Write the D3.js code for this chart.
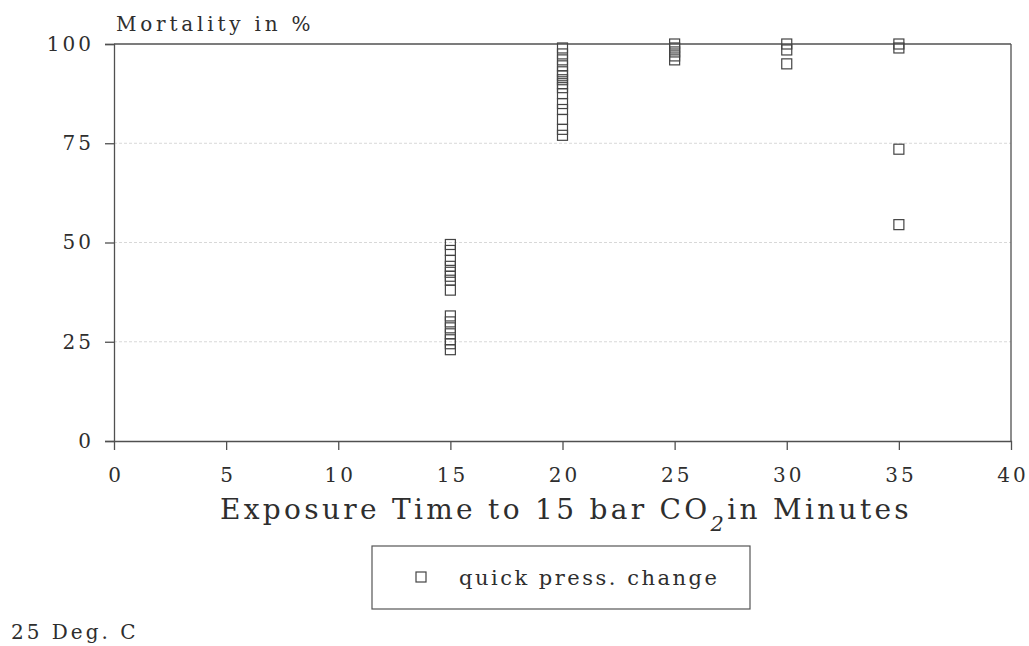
<!DOCTYPE html>
<html><head><meta charset="utf-8">
<script src="https://cdn.jsdelivr.net/npm/d3@7"></script>
<style>body{margin:0;background:#fff}svg{display:block}text{font-family:"DejaVu Serif",serif;fill:#2e2e2e}</style>
</head><body>
<script>
const xTicks = [0,5,10,15,20,25,30,35,40];
const yTicks = [0,25,50,75,100];
const times = [15,20,25,30,35];
const mort15 = [49.5,48,45.5,44,42.5,41.5,40.5,38,31.5,30,28.5,27,25.5,24.5,23];
const mort20 = [99,97.5,96,94.5,93,92,91,90,89,87.5,85,83.5,81,78.5,77];
const mort25 = [100,99,98,97,96];
const mort30 = [100,98.5,95];
const mort35 = [100,99,73.5,54.5];
const seriesName = "quick press. change";

const W=1029,H=646;
const svg=d3.select("body").append("svg").attr("width",W).attr("height",H);
const x=d3.scaleLinear().domain([0,40]).range([114,1011]);
const y=d3.scaleLinear().domain([0,100]).range([441,44]);
const ink="#505050";

// grid
svg.append("g").selectAll("line").data([25,50,75]).join("line")
 .attr("x1",x(0)).attr("x2",x(40)).attr("y1",d=>y(d)).attr("y2",d=>y(d))
 .attr("stroke","#d8d8d8").attr("stroke-width",1).attr("stroke-dasharray","3,2");

// frame top/right
svg.append("line").attr("x1",x(0)).attr("x2",x(40)).attr("y1",y(100)).attr("y2",y(100)).attr("stroke",ink).attr("stroke-width",1.3);
svg.append("line").attr("x1",x(40)).attr("x2",x(40)).attr("y1",y(100)).attr("y2",y(0)).attr("stroke",ink).attr("stroke-width",1.3);

const xa=svg.append("g").attr("transform",`translate(0,${y(0)})`)
 .call(d3.axisBottom(x).tickValues(xTicks).tickSize(9).tickPadding(18).tickFormat(d3.format("d")));
const ya=svg.append("g").attr("transform",`translate(${x(0)},0)`)
 .call(d3.axisLeft(y).tickValues(yTicks).tickSize(9).tickPadding(14).tickFormat(d3.format("d")));
[xa,ya].forEach(a=>{
  a.select(".domain").attr("stroke",ink).attr("stroke-width",1.3);
  a.selectAll(".tick line").attr("stroke",ink).attr("stroke-width",1.3);
  a.selectAll(".tick text").attr("font-size",20).attr("fill","#2e2e2e").attr("font-family","DejaVu Serif").style("letter-spacing","3px");
});
xa.selectAll(".tick text").attr("dx","1.5");
ya.selectAll(".tick text").attr("dx","3");
xa.selectAll(".tick").filter(d=>d===0||d===40).select("line").remove();

// points
const groups=[mort15,mort20,mort25,mort30,mort35];
const pts=[];
groups.forEach((g,i)=>g.forEach(v=>pts.push({t:times[i],v})));
const s=10;
svg.append("g").selectAll("rect").data(pts).join("rect")
 .attr("x",d=>x(d.t)-s/2).attr("y",d=>y(d.v)-s/2).attr("width",s).attr("height",s)
 .attr("fill","none").attr("stroke","#444").attr("stroke-width",1.2);

// labels
svg.append("text").attr("x",116).attr("y",31).attr("font-size",20).style("letter-spacing","3.8px").text("Mortality in %");
const t=svg.append("text").attr("x",566).attr("y",519).attr("text-anchor","middle").attr("font-size",28).style("letter-spacing","3.3px");
t.append("tspan").text("Exposure Time to 15 bar CO");
t.append("tspan").attr("dy",12).attr("font-size",21).attr("font-style","italic").text("2");
t.append("tspan").attr("dy",-12).text("in Minutes");

// legend
svg.append("rect").attr("x",372).attr("y",546).attr("width",378).attr("height",63).attr("fill","none").attr("stroke","#555").attr("stroke-width",1.2);
svg.append("rect").attr("x",416).attr("y",572).attr("width",10).attr("height",10).attr("fill","none").attr("stroke","#444").attr("stroke-width",1.2);
svg.append("text").attr("x",459).attr("y",585).attr("font-size",21).style("letter-spacing","2.5px").text(seriesName);

svg.append("text").attr("x",11).attr("y",639).attr("font-size",20).style("letter-spacing","3px").text("25 Deg. C");
</script>
</body></html>
